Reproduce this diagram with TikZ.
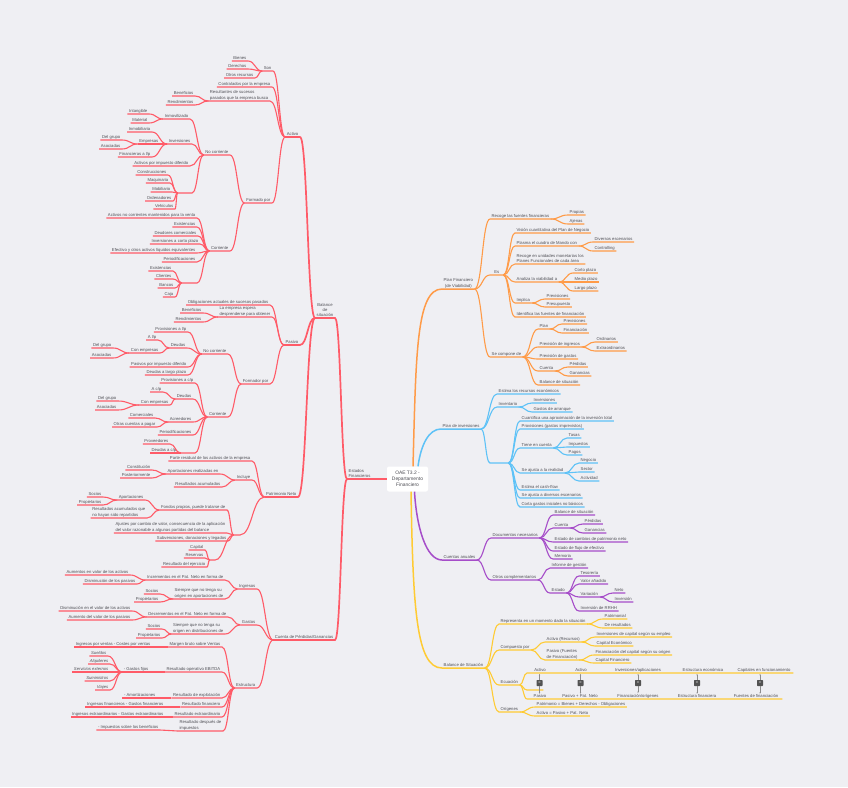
\documentclass[tikz,border=0pt]{standalone}
\usepackage{fontspec}
\setmainfont{Liberation Sans}
\usetikzlibrary{arrows.meta,calc}
\definecolor{bgc}{HTML}{EFEFF3}
\definecolor{txtc}{HTML}{4F4F55}
\definecolor{rdc}{HTML}{FF5B68}
\definecolor{ogc}{HTML}{FF9B48}
\definecolor{blc}{HTML}{5EC2F7}
\definecolor{puc}{HTML}{A64DC9}
\definecolor{yec}{HTML}{FFCB33}
\tikzset{
  mmtext/.style={font=\fontsize{4.2}{5.4}\selectfont, text=txtc, inner xsep=1.5pt, inner ysep=0.9pt},
  lnode/.style={mmtext, anchor=south east, align=left},
  rnode/.style={mmtext, anchor=south west, align=left},
  rootbox/.style={fill=white, rounded corners=2pt, minimum width=41pt, minimum height=25pt,
                  align=center, font=\fontsize{4.9}{6}\selectfont, text=txtc},
  eqlab/.style={mmtext, anchor=south},
  eqbox/.style={fill=black!68, rounded corners=0.6pt, minimum size=6pt, inner sep=0pt,
                text=white, font=\fontsize{4}{4}\selectfont},
  eqarr/.style={-{Stealth[length=1.3pt,width=1.3pt]}, draw=black!45, line width=0.3pt},
  rd1/.style={draw=rdc, line width=1.7pt}, rd2/.style={draw=rdc, line width=1.1pt},
  og1/.style={draw=ogc, line width=1.5pt}, og2/.style={draw=ogc, line width=1.1pt},
  bl1/.style={draw=blc, line width=1.5pt}, bl2/.style={draw=blc, line width=1.1pt},
  pu1/.style={draw=puc, line width=1.5pt}, pu2/.style={draw=puc, line width=1.1pt},
  ye1/.style={draw=yec, line width=1.5pt}, ye2/.style={draw=yec, line width=1.1pt},
}
% curved branch + underline of the child
\newcommand{\linkL}[3]{\draw[#1] let \p1=(#2.south west), \p2=(#3.south east), \n1={(\x1+\x2)/2} in
  (\p1) .. controls (\n1,\y1) and (\n1,\y2) .. (\p2) -- (#3.south west);}
\newcommand{\linkR}[3]{\draw[#1] let \p1=(#2.south east), \p2=(#3.south west), \n1={(\x1+\x2)/2} in
  (\p1) .. controls (\n1,\y1) and (\n1,\y2) .. (\p2) -- (#3.south east);}

\begin{document}
\begin{tikzpicture}[x=1pt,y=-1pt]
\fill[bgc] (0,0) rectangle (848,787);

\node[rootbox] (root) at (407.5,479) {OAE T3.2 -\\Departamento\\Financiero};

% ---- Estados financieros (left)
\node[rnode] (ef) at (347,479) {Estados\\Financieros};
\node[lnode, align=center] (bal) at (335,318) {Balance\\de\\situación};
\node[lnode] (cpg) at (335,640) {Cuenta de Pérdidas/Ganancias};

% activo
\node[lnode] (act) at (300,137) {Activo};
\node[lnode] (son) at (273,71) {Son};
\node[lnode] (bie) at (248,61) {Bienes};
\node[lnode] (der) at (248,69) {Derechos};
\node[lnode] (otr) at (255,78) {Otros recursos};
\node[lnode] (con) at (272,87) {Contralados por la empresa};
\node[lnode] (res) at (270,101) {Resultantes de sucesos\\pasados que la empresa busca};
\node[lnode] (ben1) at (195,96) {Beneficios};
\node[lnode] (ren1) at (195,105) {Rendimientos};
\node[lnode] (afp) at (272,203) {Formado por};
\node[lnode] (anc) at (230,155) {No corriente};
\node[lnode] (inm) at (190,119) {Inmovilizado};
\node[lnode] (intg) at (149,114) {Intangible};
\node[lnode] (mat) at (149,123) {Material};
\node[lnode] (inv) at (192,144) {Inversiones};
\node[lnode] (inmb) at (152,132) {Inmobiliaria};
\node[lnode] (emp) at (160,144) {Empresas};
\node[lnode] (dgr1) at (122,140) {Del grupo};
\node[lnode] (aso1) at (122,149) {Asociadas};
\node[lnode] (fin) at (152,157) {Financieras a l/p};
\node[lnode] (aid) at (190,166) {Activos por impuesto diferido};
\node[lnode, minimum width=14pt] (gd) at (192,193) {};
\node[lnode] (cons) at (168,175) {Construcciones};
\node[lnode] (maq) at (170,183) {Maquinaria};
\node[lnode] (mob) at (172,192) {Mobiliario};
\node[lnode] (ord) at (173,201) {Ordenadores};
\node[lnode] (veh) at (175,209) {Vehículos};
\node[lnode] (acr) at (230,251) {Corriente};
\node[lnode] (anv) at (197,218) {Activos no corrientes mantenidos para la venta};
\node[lnode] (exi1) at (197,227) {Existencias};
\node[lnode] (deu) at (198,236) {Deudores comerciales};
\node[lnode] (icp) at (200,244) {Inversiones a corto plazo};
\node[lnode] (efe) at (197,253) {Efectivo y otros activos líquidos equivalentes};
\node[lnode] (per1) at (197,262) {Periodificaciones};
\node[lnode, minimum width=15pt] (gc) at (197,283) {};
\node[lnode] (exi2) at (173,271) {Existencias};
\node[lnode] (cli) at (173,279) {Clientes};
\node[lnode] (ban) at (175,288) {Bancos};
\node[lnode] (caj) at (175,297) {Caja};

% pasivo
\node[lnode] (pas) at (300,345) {Pasivo};
\node[lnode] (obl) at (270,305) {Obligaciones actuales de sucesos pasados};
\node[lnode] (esp) at (272,317) {La empresa espera\\desprenderse para obtener};
\node[lnode] (ben2) at (203,313) {Beneficios};
\node[lnode] (ren2) at (203,322) {Rendimientos};
\node[lnode] (pfp) at (270,384) {Formador por};
\node[lnode] (pnc) at (228,354) {No corriente};
\node[lnode] (pl) at (188,332) {Provisiones a l/p};
\node[lnode] (dlp) at (187,348) {Deudas};
\node[lnode] (al) at (158,340) {A l/p};
\node[lnode] (ce1) at (160,353) {Con empresas};
\node[lnode] (dg2) at (113,348) {Del grupo};
\node[lnode] (as2) at (113,358) {Asociadas};
\node[lnode] (pid) at (188,367) {Pasivos por impuesto diferido};
\node[lnode] (dlg) at (188,375) {Deudas a largo plazo};
\node[lnode] (pcr) at (228,417) {Corriente};
\node[lnode] (pc) at (195,383) {Provisiones a c/p};
\node[lnode] (dcp) at (193,399) {Deudas};
\node[lnode] (ac) at (163,392) {A c/p};
\node[lnode] (ce2) at (170,405) {Con empresas};
\node[lnode] (dg3) at (118,401) {Del grupo};
\node[lnode] (as3) at (118,410) {Asociadas};
\node[lnode] (acre) at (193,422) {Acreedores};
\node[lnode] (com) at (155,418) {Comerciales};
\node[lnode] (ocp) at (157,427) {Otras cuentas a pagar};
\node[lnode] (per2) at (193,435) {Periodificaciones};
\node[lnode, minimum width=14pt] (ge) at (195,453) {};
\node[lnode] (prov) at (170,444) {Proveedores};
\node[lnode] (dcp2) at (178,453) {Deudas a c/p};

% patrimonio neto
\node[lnode] (pn) at (298,497) {Patrimonio Neto};
\node[lnode] (prd) at (252,461) {Parte residual de los activos de la empresa};
\node[lnode] (inc) at (252,480) {Incluye};
\node[lnode] (apr) at (220,474) {Aportaciones realizadas en};
\node[lnode] (cst) at (152,470) {Constitución};
\node[lnode] (pos) at (152,478) {Posteriormente};
\node[lnode] (rac) at (222,487) {Resultados acumulados};
\node[lnode, minimum width=6pt] (gp) at (240,535) {};
\node[lnode] (fpr) at (227,510) {Fondos propios, puede tratarse de};
\node[lnode] (apo) at (145,500) {Aportaciones};
\node[lnode] (soc1) at (103,497) {Socios};
\node[lnode] (pro1) at (103,505) {Propietarios};
\node[lnode] (rhs) at (147,518) {Resultados acumulados que\\no hayan sido repartidos};
\node[lnode] (aju) at (227,533) {Ajustes por cambio de valor, consecuencia de la aplicación\\del valor razonable a algunas partidas del balance};
\node[lnode] (sub) at (228,541) {Subvenciones, donaciones y legados};
\node[lnode, minimum width=5pt] (gq) at (215,560) {};
\node[lnode] (cap) at (205,550) {Capital};
\node[lnode] (rsv) at (205,558) {Reservas};
\node[lnode] (rej) at (207,567) {Resultado del ejercicio};

% cuenta de perdidas y ganancias
\node[lnode] (ing) at (257,589) {Ingresos};
\node[lnode] (incr) at (225,580) {Incrementos en el Pat. Neto en forma de};
\node[lnode] (aum1) at (130,575) {Aumentos en valor de los activos};
\node[lnode] (dis1) at (137,584) {Disminución de los pasivos};
\node[lnode] (sia) at (225,599) {Siempre que no tenga su\\origen en aportaciones de};
\node[lnode] (soc2) at (160,594) {Socios};
\node[lnode] (pro2) at (160,602) {Propietarios};
\node[lnode] (gas) at (257,625) {Gastos};
\node[lnode] (decr) at (228,617) {Decrementos en el Pat. Neto en forma de};
\node[lnode] (dis2) at (132,611) {Disminución en el valor de los activos};
\node[lnode] (aum2) at (132,620) {Aumento del valor de los pasivos};
\node[lnode] (sid) at (225,634) {Siempre que no tenga su\\origen en distribuciones de};
\node[lnode] (soc3) at (162,629) {Socios};
\node[lnode] (pro3) at (162,638) {Propietarios};
\node[lnode] (est) at (257,688) {Estructura};
\node[lnode] (mbv) at (222,647) {Margen bruto sobre Ventas};
\node[lnode] (ivc) at (152,647) {Ingresos por ventas - Costes por ventas};
\node[lnode] (ebi) at (222,672) {Resultado operativo EBITDA};
\node[lnode] (gfi) at (150,672) {- Gastos fijos};
\node[lnode] (sue) at (108,656) {\itshape Sueldos};
\node[lnode] (alq) at (110,664) {\itshape Alquileres};
\node[lnode] (sex) at (110,672) {\itshape Servicios externos};
\node[lnode] (sum) at (110,681) {\itshape Suministros};
\node[lnode] (via) at (110,690) {\itshape Viajes};
\node[lnode] (rex) at (222,698) {Resultado de explotación};
\node[lnode] (amo) at (157,698) {- Amortizaciones};
\node[lnode] (rfi) at (222,707) {Resultado financiero};
\node[lnode] (ifg) at (165,707) {Ingresos financieros - Gastos financieros};
\node[lnode] (rxt) at (222,717) {Resultado extraordinario};
\node[lnode] (ixg) at (165,717) {Ingresos extraordinarios - Gastos extraordinarios};
\node[lnode] (rdi) at (223,731) {Resultado después de\\impuestos};
\node[lnode] (imp) at (160,730) {- Impuestos sobre los beneficios};

% ---- Plan financiero (right)
\node[rnode, align=center] (pf) at (442,289) {Plan Financiero\\(de Viabilidad)};
\node[rnode] (rff) at (490,219) {Recoge las fuentes financieras};
\node[rnode] (prp) at (568,215) {Propias};
\node[rnode] (aje) at (568,224) {Ajenas};
\node[rnode, minimum width=13pt] (es) at (490,275) {Es};
\node[rnode] (vis) at (515,233) {Visión cuantitativa del Plan de Negocio};
\node[rnode] (plm) at (515,246) {Plasma el cuadro de Mando con};
\node[rnode] (div) at (593,242) {Diversos escenarios};
\node[rnode] (ctr) at (593,251) {Controlling};
\node[rnode] (rum) at (515,264) {Recoge en unidades monetarias los\\Planes Funcionales de cada área};
\node[rnode] (avi) at (515,282) {Analiza la viabilidad a};
\node[rnode] (cpl) at (573,273) {Corto plazo};
\node[rnode] (mpl) at (573,282) {Medio plazo};
\node[rnode] (lpl) at (573,291) {Largo plazo};
\node[rnode] (imc) at (515,303) {Implica};
\node[rnode] (pre1) at (545,299) {Previsiones};
\node[rnode] (prs) at (545,307) {Presupuesto};
\node[rnode] (idf) at (515,317) {Identifica las fuentes de financiación};
\node[rnode] (scd) at (490,357) {Se compone de};
\node[rnode] (pla) at (538,329) {Plan};
\node[rnode] (pre2) at (562,324) {Previsiones};
\node[rnode] (fnc) at (562,333) {Financiación};
\node[rnode] (pin) at (538,347) {Previsión de ingresos};
\node[rnode] (ordi) at (595,342) {Ordinarios};
\node[rnode] (extr) at (595,351) {Extraordinarios};
\node[rnode] (pga) at (538,359) {Previsión de gastos};
\node[rnode] (cta1) at (538,371) {Cuenta};
\node[rnode] (per3) at (568,367) {Pérdidas};
\node[rnode] (gan1) at (568,376) {Ganancias};
\node[rnode] (bsi1) at (538,385) {Balance de situación};

% plan de inversiones
\node[rnode] (pi) at (441,429) {Plan de inversiones};
\node[rnode] (erc) at (497,394) {Estima los recursos económicos};
\node[rnode] (inv2) at (497,407) {Inventario};
\node[rnode] (inv3) at (532,403) {Inversiones};
\node[rnode] (gar) at (532,412) {Gastos de arranque};
\node[rnode, minimum width=18pt] (gf) at (490,463) {};
\node[rnode] (cua) at (520,421) {Cuantifica una aproximación de la inversión total};
\node[rnode] (pgi) at (520,429) {Provisiones (gastos imprevistos)};
\node[rnode] (tec) at (520,448) {Tiene en cuenta};
\node[rnode] (tas) at (567,438) {Tasas};
\node[rnode] (imu) at (567,447) {Impuestos};
\node[rnode] (pag) at (567,455) {Pagos};
\node[rnode] (sar) at (520,473) {Se ajusta a la realidad};
\node[rnode] (neg) at (579,463) {Negocio};
\node[rnode] (sec) at (579,472) {Sector};
\node[rnode] (act2) at (579,481) {Actividad};
\node[rnode] (ecf) at (520,490) {Estima el cash-flow};
\node[rnode] (sde) at (520,498) {Se ajusta a diversos escenarios};
\node[rnode] (cgi) at (520,507) {Corta gastos iniciales no básicos};

% cuentas anuales
\node[rnode] (ca) at (442,560) {Cuentas anuales};
\node[rnode] (dn) at (491,538) {Documentos necesarios};
\node[rnode] (bsi2) at (553,515) {Balance de situación};
\node[rnode] (cta2) at (553,528) {Cuenta};
\node[rnode] (per4) at (583,524) {Pérdidas};
\node[rnode] (gan2) at (583,533) {Ganancias};
\node[rnode] (ecp) at (553,542) {Estado de cambios de patrimonio neto};
\node[rnode] (efl) at (553,551) {Estado de flujo de efectivo};
\node[rnode] (mem) at (553,559) {Memoria};
\node[rnode] (oc) at (491,580) {Otros complementarios};
\node[rnode] (ige) at (550,568) {Informe de gestión};
\node[rnode] (edo) at (550,593) {Estado};
\node[rnode] (tes) at (579,576) {Tesorería};
\node[rnode] (van) at (579,584) {Valor añadido};
\node[rnode] (var) at (579,597) {Variación};
\node[rnode] (net) at (613,593) {Neto};
\node[rnode] (ivs) at (613,602) {Inversión};
\node[rnode] (irh) at (579,611) {Inversión de RRHH};

% balance de situacion
\node[rnode] (bs) at (442,668) {Balance de Situación};
\node[rnode] (rep) at (499,624) {Representa en un momento dado la situación};
\node[rnode] (pat) at (603,619) {Patrimonial};
\node[rnode] (dre) at (603,628) {De resultados};
\node[rnode] (cmp) at (499,650) {Compuesto por};
\node[rnode] (arc) at (545,642) {Activo (Recursos)};
\node[rnode] (icse) at (595,637) {Inversiones de capital según su empleo};
\node[rnode] (cec) at (595,646) {Capital Económico};
\node[rnode] (pfu) at (545,660) {Pasivo (Fuentes\\de Financiación)};
\node[rnode] (fcso) at (594,655) {Financiación del capital según su origen};
\node[rnode] (cfi) at (594,663) {Capital Financiero};
\node[rnode] (ecu) at (499,685) {Ecuación};
\node[rnode, minimum width=266pt] (rt) at (527,673) {};
\node[rnode, minimum width=16pt] (rm) at (527,690) {};
\node[rnode, minimum width=255pt] (rb) at (527,699) {};
\node[rnode] (ori) at (499,712) {Orígenes};
\node[rnode] (pbd) at (535,707) {Patrimonio = Bienes + Derechos - Obligaciones};
\node[rnode] (apn) at (535,716) {Activo = Pasivo + Pat. Neto};

% ecuacion
\node[eqlab] (t1) at (540,673) {Activo};
\node[eqlab] (t2) at (581,673) {Activo};
\node[eqlab] (t3) at (638,673) {Inversiones/aplicaciones};
\node[eqlab] (t4) at (703,673) {Estructura económica};
\node[eqlab] (t5) at (764,673) {Capitales en funcionamiento};
\node[eqlab] (u1) at (540,699) {Pasivo};
\node[eqlab] (u2) at (580,699) {Pasivo + Pat. Neto};
\node[eqlab] (u3) at (638,699) {Financiación/orígenes};
\node[eqlab] (u4) at (697,699) {Estructura financiera};
\node[eqlab] (u5) at (756,699) {Fuentes de financiación};
\node[eqbox] (q1) at (539.5,683) {=};
\node[eqbox] (q2) at (580.5,683) {=};
\node[eqbox] (q3) at (638,683) {=};
\node[eqbox] (q4) at (697,683) {=};
\node[eqbox] (q5) at (760,683) {=};

% ---- branches
\draw[rd1] (root.west) -- (ef.south west);
\linkL{rd1}{ef}{bal} \linkL{rd1}{ef}{cpg}
\linkL{rd1}{bal}{act} \linkL{rd1}{bal}{pas} \linkL{rd1}{bal}{pn}
\linkL{rd2}{act}{son} \linkL{rd2}{act}{con} \linkL{rd2}{act}{res} \linkL{rd2}{act}{afp}
\linkL{rd2}{son}{bie} \linkL{rd2}{son}{der} \linkL{rd2}{son}{otr}
\linkL{rd2}{res}{ben1} \linkL{rd2}{res}{ren1}
\linkL{rd2}{afp}{anc} \linkL{rd2}{afp}{acr}
\linkL{rd2}{anc}{inm} \linkL{rd2}{anc}{inv} \linkL{rd2}{anc}{aid} \linkL{rd2}{anc}{gd}
\linkL{rd2}{inm}{intg} \linkL{rd2}{inm}{mat}
\linkL{rd2}{inv}{inmb} \linkL{rd2}{inv}{emp} \linkL{rd2}{inv}{fin}
\linkL{rd2}{emp}{dgr1} \linkL{rd2}{emp}{aso1}
\linkL{rd2}{gd}{cons} \linkL{rd2}{gd}{maq} \linkL{rd2}{gd}{mob} \linkL{rd2}{gd}{ord} \linkL{rd2}{gd}{veh}
\linkL{rd2}{acr}{anv} \linkL{rd2}{acr}{exi1} \linkL{rd2}{acr}{deu} \linkL{rd2}{acr}{icp}
\linkL{rd2}{acr}{efe} \linkL{rd2}{acr}{per1} \linkL{rd2}{acr}{gc}
\linkL{rd2}{gc}{exi2} \linkL{rd2}{gc}{cli} \linkL{rd2}{gc}{ban} \linkL{rd2}{gc}{caj}
\linkL{rd2}{pas}{obl} \linkL{rd2}{pas}{esp} \linkL{rd2}{pas}{pfp}
\linkL{rd2}{esp}{ben2} \linkL{rd2}{esp}{ren2}
\linkL{rd2}{pfp}{pnc} \linkL{rd2}{pfp}{pcr}
\linkL{rd2}{pnc}{pl} \linkL{rd2}{pnc}{dlp} \linkL{rd2}{pnc}{pid} \linkL{rd2}{pnc}{dlg}
\linkL{rd2}{dlp}{al} \linkL{rd2}{dlp}{ce1}
\linkL{rd2}{ce1}{dg2} \linkL{rd2}{ce1}{as2}
\linkL{rd2}{pcr}{pc} \linkL{rd2}{pcr}{dcp} \linkL{rd2}{pcr}{acre} \linkL{rd2}{pcr}{per2} \linkL{rd2}{pcr}{ge}
\linkL{rd2}{dcp}{ac} \linkL{rd2}{dcp}{ce2}
\linkL{rd2}{ce2}{dg3} \linkL{rd2}{ce2}{as3}
\linkL{rd2}{acre}{com} \linkL{rd2}{acre}{ocp}
\linkL{rd2}{ge}{prov} \linkL{rd2}{ge}{dcp2}
\linkL{rd2}{pn}{prd} \linkL{rd2}{pn}{inc} \linkL{rd2}{pn}{gp}
\linkL{rd2}{inc}{apr} \linkL{rd2}{inc}{rac}
\linkL{rd2}{apr}{cst} \linkL{rd2}{apr}{pos}
\linkL{rd2}{gp}{fpr} \linkL{rd2}{gp}{aju} \linkL{rd2}{gp}{sub} \linkL{rd2}{gp}{gq}
\linkL{rd2}{fpr}{apo} \linkL{rd2}{fpr}{rhs}
\linkL{rd2}{apo}{soc1} \linkL{rd2}{apo}{pro1}
\linkL{rd2}{gq}{cap} \linkL{rd2}{gq}{rsv} \linkL{rd2}{gq}{rej}
\linkL{rd2}{cpg}{ing} \linkL{rd2}{cpg}{gas} \linkL{rd2}{cpg}{est}
\linkL{rd2}{ing}{incr} \linkL{rd2}{ing}{sia}
\linkL{rd2}{incr}{aum1} \linkL{rd2}{incr}{dis1}
\linkL{rd2}{sia}{soc2} \linkL{rd2}{sia}{pro2}
\linkL{rd2}{gas}{decr} \linkL{rd2}{gas}{sid}
\linkL{rd2}{decr}{dis2} \linkL{rd2}{decr}{aum2}
\linkL{rd2}{sid}{soc3} \linkL{rd2}{sid}{pro3}
\linkL{rd2}{est}{mbv} \linkL{rd2}{est}{ebi} \linkL{rd2}{est}{rex}
\linkL{rd2}{est}{rfi} \linkL{rd2}{est}{rxt} \linkL{rd2}{est}{rdi}
\linkL{rd2}{mbv}{ivc} \linkL{rd2}{ebi}{gfi} \linkL{rd2}{rex}{amo}
\linkL{rd2}{rfi}{ifg} \linkL{rd2}{rxt}{ixg} \linkL{rd2}{rdi}{imp}
\linkL{rd2}{gfi}{sue} \linkL{rd2}{gfi}{alq} \linkL{rd2}{gfi}{sex} \linkL{rd2}{gfi}{sum} \linkL{rd2}{gfi}{via}

\draw[og1] ([xshift=5.5pt]root.north) .. controls +(3,-110) and +(-26,0) .. (pf.south west) -- (pf.south east);
\linkR{og2}{pf}{rff} \linkR{og2}{pf}{es} \linkR{og2}{pf}{scd}
\linkR{og2}{rff}{prp} \linkR{og2}{rff}{aje}
\linkR{og2}{es}{vis} \linkR{og2}{es}{plm} \linkR{og2}{es}{rum} \linkR{og2}{es}{avi}
\linkR{og2}{es}{imc} \linkR{og2}{es}{idf}
\linkR{og2}{plm}{div} \linkR{og2}{plm}{ctr}
\linkR{og2}{avi}{cpl} \linkR{og2}{avi}{mpl} \linkR{og2}{avi}{lpl}
\linkR{og2}{imc}{pre1} \linkR{og2}{imc}{prs}
\linkR{og2}{scd}{pla} \linkR{og2}{scd}{pin} \linkR{og2}{scd}{pga} \linkR{og2}{scd}{cta1} \linkR{og2}{scd}{bsi1}
\linkR{og2}{pla}{pre2} \linkR{og2}{pla}{fnc}
\linkR{og2}{pin}{ordi} \linkR{og2}{pin}{extr}
\linkR{og2}{cta1}{per3} \linkR{og2}{cta1}{gan1}

\draw[bl1] ([xshift=10.5pt]root.north) .. controls +(3,-22) and +(-12,0) .. (pi.south west) -- (pi.south east);
\linkR{bl2}{pi}{erc} \linkR{bl2}{pi}{inv2} \linkR{bl2}{pi}{gf}
\linkR{bl2}{inv2}{inv3} \linkR{bl2}{inv2}{gar}
\linkR{bl2}{gf}{cua} \linkR{bl2}{gf}{pgi} \linkR{bl2}{gf}{tec} \linkR{bl2}{gf}{sar}
\linkR{bl2}{gf}{ecf} \linkR{bl2}{gf}{sde} \linkR{bl2}{gf}{cgi}
\linkR{bl2}{tec}{tas} \linkR{bl2}{tec}{imu} \linkR{bl2}{tec}{pag}
\linkR{bl2}{sar}{neg} \linkR{bl2}{sar}{sec} \linkR{bl2}{sar}{act2}

\draw[pu1] ([xshift=7pt]root.south) .. controls +(2,35) and +(-16,0) .. (ca.south west) -- (ca.south east);
\linkR{pu2}{ca}{dn} \linkR{pu2}{ca}{oc}
\linkR{pu2}{dn}{bsi2} \linkR{pu2}{dn}{cta2} \linkR{pu2}{dn}{ecp} \linkR{pu2}{dn}{efl} \linkR{pu2}{dn}{mem}
\linkR{pu2}{cta2}{per4} \linkR{pu2}{cta2}{gan2}
\linkR{pu2}{oc}{ige} \linkR{pu2}{oc}{edo}
\linkR{pu2}{edo}{tes} \linkR{pu2}{edo}{van} \linkR{pu2}{edo}{var} \linkR{pu2}{edo}{irh}
\linkR{pu2}{var}{net} \linkR{pu2}{var}{ivs}

\draw[ye1] ([xshift=3.5pt]root.south) .. controls +(2,115) and +(-26,0) .. (bs.south west) -- (bs.south east);
\linkR{ye2}{bs}{rep} \linkR{ye2}{bs}{cmp} \linkR{ye2}{bs}{ecu} \linkR{ye2}{bs}{ori}
\linkR{ye2}{rep}{pat} \linkR{ye2}{rep}{dre}
\linkR{ye2}{cmp}{arc} \linkR{ye2}{cmp}{pfu}
\linkR{ye2}{arc}{icse} \linkR{ye2}{arc}{cec}
\linkR{ye2}{pfu}{fcso} \linkR{ye2}{pfu}{cfi}
\linkR{ye2}{ecu}{rt} \linkR{ye2}{ecu}{rm} \linkR{ye2}{ecu}{rb}
\linkR{ye2}{ori}{pbd} \linkR{ye2}{ori}{apn}

\draw[eqarr, shorten >=1pt] (q1.north) -- (q1.north |- rt.south);
\draw[eqarr, shorten >=1pt] (q2.north) -- (q2.north |- rt.south);
\draw[eqarr, shorten >=1pt] (q3.north) -- (q3.north |- rt.south);
\draw[eqarr, shorten >=1pt] (q4.north) -- (q4.north |- rt.south);
\draw[eqarr, shorten >=1pt] (q5.north) -- (q5.north |- rt.south);
\draw[eqarr] (q1.south) -- (q1.south |- u1.north);
\draw[eqarr] (q2.south) -- (q2.south |- u2.north);
\draw[eqarr] (q3.south) -- (q3.south |- u3.north);
\draw[eqarr] (q4.south) -- (q4.south |- u4.north);
\draw[eqarr] (q5.south) -- (q5.south |- u5.north);
\end{tikzpicture}
\end{document}
